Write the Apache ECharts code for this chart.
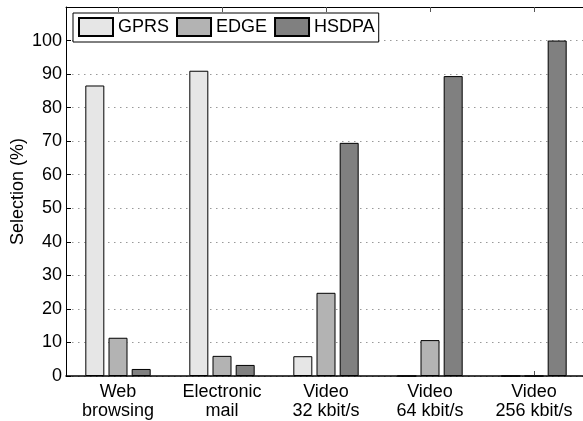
<!DOCTYPE html>
<html>
<head>
<meta charset="utf-8">
<script src="https://cdn.jsdelivr.net/npm/echarts@6/dist/echarts.min.js"></script>
<style>
  html, body { margin: 0; padding: 0; background: #fff; }
  #chart { width: 583px; height: 421px; }
</style>
</head>
<body>
<div id="chart"></div>
<script>
var categories = ['Web\nbrowsing', 'Electronic\nmail', 'Video\n32 kbit/s', 'Video\n64 kbit/s', 'Video\n256 kbit/s'];
var gprs  = [86.6, 91.0, 5.9, 0, 0];
var edge  = [11.4, 6.0, 24.8, 10.7, 0];
var hsdpa = [2.1, 3.3, 69.5, 89.4, 100];
var yTicks = [0, 10, 20, 30, 40, 50, 60, 70, 80, 90, 100];

var myChart = echarts.init(document.getElementById('chart'));
var font = 'Liberation Sans, Arial, Helvetica, sans-serif';

function barSeries(name, data, color) {
    return {
        name: name,
        type: 'bar',
        data: data,
        barWidth: 19,
        barGap: '22%',
        itemStyle: { color: color, borderColor: '#000', borderWidth: 1 },
        emphasis: { disabled: true }
    };
}

var option = {
    backgroundColor: '#fff',
    animation: false,
    textStyle: { fontFamily: font },
    grid: { left: 66, top: 7, width: 520, bottom: 45, containLabel: false, outerBoundsMode: 'none' },
    legend: {
        left: 73,
        top: 13,
        orient: 'horizontal',
        icon: 'rect',
        itemWidth: 34,
        itemHeight: 18,
        itemGap: 7,
        padding: [4, 4, 5, 5],
        borderColor: '#000',
        borderWidth: 1,
        backgroundColor: '#fff',
        textStyle: { fontSize: 18, color: '#000', fontFamily: font },
        data: ['GPRS', 'EDGE', 'HSDPA']
    },
    xAxis: [{
        type: 'category',
        data: categories,
        position: 'bottom',
        axisLine: { lineStyle: { color: '#000', width: 1.5 } },
        axisTick: { show: true, inside: true, length: 5, alignWithLabel: true, lineStyle: { color: '#555' } },
        axisLabel: { fontSize: 18, color: '#000', lineHeight: 19, margin: 7, interval: 0, fontFamily: font },
        splitLine: { show: false }
    }, {
        type: 'category',
        data: categories,
        position: 'top',
        axisLine: { lineStyle: { color: '#000', width: 1 } },
        axisTick: { show: true, inside: true, length: 5, alignWithLabel: true, lineStyle: { color: '#555' } },
        axisLabel: { show: false },
        splitLine: { show: false }
    }],
    yAxis: {
        type: 'value',
        min: 0,
        max: 110,
        interval: 10,
        name: 'Selection (%)',
        nameLocation: 'middle',
        nameGap: 39,
        nameRotate: 90,
        nameMoveOverlap: false,
        nameTextStyle: { fontSize: 18, color: '#000', fontFamily: font },
        axisLine: { show: true, lineStyle: { color: '#000', width: 1 } },
        axisTick: { show: true, inside: true, length: 5, lineStyle: { color: '#000' } },
        axisLabel: {
            fontSize: 18, color: '#000', margin: 4, fontFamily: font,
            formatter: function (v) { return yTicks.indexOf(v) >= 0 ? String(v) : ''; }
        },
        splitLine: { show: true, lineStyle: { color: '#999', width: 1, type: [1.5, 4.5] } }
    },
    series: [
        barSeries('GPRS', gprs, '#e6e6e6'),
        barSeries('EDGE', edge, '#b3b3b3'),
        barSeries('HSDPA', hsdpa, '#808080')
    ]
};

myChart.setOption(option);
</script>
</body>
</html>
